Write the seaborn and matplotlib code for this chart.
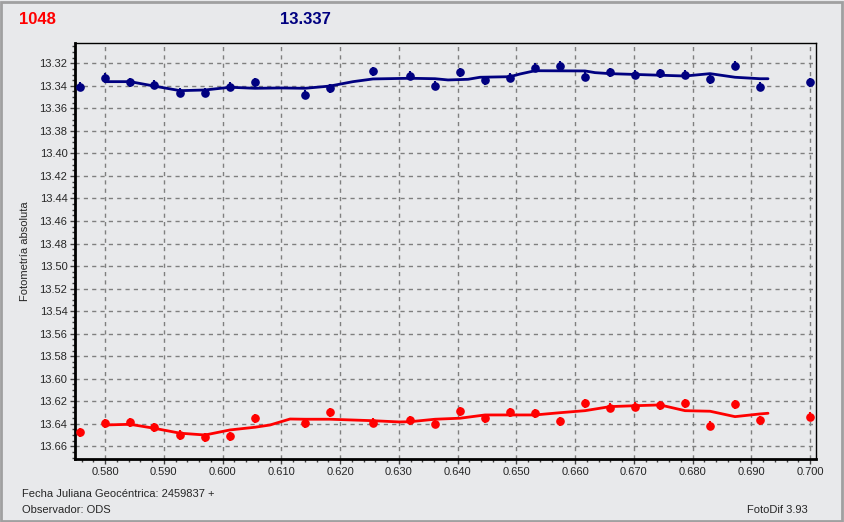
import numpy as np
import pandas as pd
import seaborn as sns
import matplotlib.pyplot as plt
from matplotlib.ticker import MultipleLocator, FormatStrFormatter
from matplotlib.patches import Rectangle

# Fecha juliana (fraccion) de cada medida
jd = [0.57574, 0.58000, 0.58426, 0.58834, 0.59277, 0.59702, 0.60128, 0.60553,
      0.61404, 0.61830, 0.62562, 0.63191, 0.63617, 0.64043, 0.64468, 0.64894,
      0.65319, 0.65745, 0.66170, 0.66596, 0.67021, 0.67447, 0.67872, 0.68298,
      0.68723, 0.69149, 0.70000]

# Estrella de comparacion (azul) y objeto (rojo)
mag_azul = [13.341, 13.333, 13.337, 13.339, 13.346, 13.346, 13.341, 13.337,
            13.348, 13.342, 13.327, 13.331, 13.340, 13.328, 13.335, 13.333,
            13.324, 13.322, 13.332, 13.328, 13.330, 13.329, 13.330, 13.334,
            13.322, 13.341, 13.337]
mag_rojo = [13.6474, 13.6394, 13.6385, 13.643, 13.650, 13.6518, 13.651, 13.635,
            13.6394, 13.6296, 13.639, 13.637, 13.640, 13.6287, 13.635, 13.6296,
            13.6305, 13.6376, 13.6216, 13.626, 13.625, 13.6234, 13.6216, 13.642,
            13.6225, 13.637, 13.6336]

# Curvas suavizadas
jd_azul_c = [0.5800, 0.58426, 0.58834, 0.59277, 0.59702, 0.60128, 0.60553, 0.60996,
             0.61404, 0.61830, 0.62221, 0.62562, 0.63191, 0.63617, 0.63838, 0.64179,
             0.64383, 0.64894, 0.65064, 0.65319, 0.66170, 0.66340, 0.66596, 0.67872,
             0.68298, 0.68723, 0.69149, 0.69285]
y_azul_c = [13.3363, 13.3363, 13.3402, 13.3443, 13.3437, 13.3413, 13.3422, 13.3419,
            13.3422, 13.3402, 13.3363, 13.3339, 13.3333, 13.3337, 13.3348, 13.3342,
            13.3324, 13.3319, 13.3295, 13.3266, 13.3268, 13.3283, 13.3292, 13.3313,
            13.3292, 13.3324, 13.3337, 13.3337]

jd_rojo_c = [0.5800, 0.58426, 0.58834, 0.59277, 0.59702, 0.60128, 0.60553, 0.60809,
             0.61149, 0.61404, 0.61830, 0.62562, 0.63004, 0.63191, 0.63617, 0.64043,
             0.64468, 0.64894, 0.65319, 0.65745, 0.66170, 0.66596, 0.67021, 0.67447,
             0.67872, 0.68298, 0.68723, 0.69149, 0.69285]
y_rojo_c = [13.6411, 13.6405, 13.6440, 13.6484, 13.6500, 13.6455, 13.6431, 13.6411,
            13.6358, 13.6360, 13.6360, 13.6373, 13.6384, 13.6382, 13.6360, 13.6351,
            13.6322, 13.6322, 13.6322, 13.6302, 13.6284, 13.6248, 13.6240, 13.6233,
            13.6284, 13.6289, 13.6337, 13.6313, 13.6307]

fondo = "#e8e9eb"
azul = "#000080"
rojo = "#ff0000"

sns.set_theme(style="ticks")
plt.rcParams["font.family"] = ["Liberation Sans", "DejaVu Sans"]

fig = plt.figure(figsize=(8.44, 5.22), dpi=100, facecolor=fondo)
ax = fig.add_axes([0.0889, 0.1207, 0.8776, 0.7969], facecolor=fondo)

curva_azul = pd.DataFrame({"jd": jd_azul_c, "mag": y_azul_c})
curva_rojo = pd.DataFrame({"jd": jd_rojo_c, "mag": y_rojo_c})
sns.lineplot(data=curva_azul, x="jd", y="mag", color=azul, lw=2, ax=ax,
             estimator=None, sort=False)
sns.lineplot(data=curva_rojo, x="jd", y="mag", color=rojo, lw=2, ax=ax,
             estimator=None, sort=False)

# Puntos con pequenas barras de error
ax.errorbar(jd, mag_azul, yerr=0.004, fmt="o", color=azul, ms=5.2,
            elinewidth=1.5, capsize=0, zorder=4)
ax.errorbar(jd, mag_rojo, yerr=0.004, fmt="o", color=rojo, ms=5.2,
            elinewidth=1.5, capsize=0, zorder=4)

ax.set_xlim(0.57489, 0.70097)
ax.set_ylim(13.6713, 13.302)

ax.xaxis.set_major_locator(MultipleLocator(0.01))
ax.xaxis.set_minor_locator(MultipleLocator(0.002))
ax.xaxis.set_major_formatter(FormatStrFormatter("%.3f"))
ax.yaxis.set_major_locator(MultipleLocator(0.02))
ax.yaxis.set_minor_locator(MultipleLocator(0.005))
ax.yaxis.set_major_formatter(FormatStrFormatter("%.2f"))

ax.grid(True, which="major", color="#7f7f7f", linestyle=(0, (3, 3)), lw=1)
ax.tick_params(which="major", length=3.5, width=1, labelsize=8, color="#404040",
               pad=2)
ax.tick_params(which="minor", length=2, width=1, color="#404040")

for lado in ["top", "right"]:
    ax.spines[lado].set_visible(True)
    ax.spines[lado].set_linewidth(1)
    ax.spines[lado].set_color("black")
for lado in ["left", "bottom"]:
    ax.spines[lado].set_linewidth(2)
    ax.spines[lado].set_color("black")

ax.set_xlabel("")
ax.set_ylabel("Fotometría absoluta", fontsize=8, labelpad=7)

fig.text(19 / 844, 1 - 19 / 522, "1048", color=rojo, fontsize=12,
         fontweight="bold", va="center", ha="left")
fig.text(280 / 844, 1 - 19 / 522, "13.337", color=azul, fontsize=12,
         fontweight="bold", va="center", ha="left")
fig.text(22 / 844, 1 - 494 / 522, "Fecha Juliana Geocéntrica: 2459837 +",
         fontsize=8, va="center", ha="left")
fig.text(22 / 844, 1 - 510 / 522, "Observador: ODS", fontsize=8,
         va="center", ha="left")
fig.text(808 / 844, 1 - 510 / 522, "FotoDif 3.93", fontsize=8,
         va="center", ha="right")

# Marco de la ventana
fig.patches.append(Rectangle((0.001, 0.002), 0.997, 0.995, transform=fig.transFigure,
                             fill=False, edgecolor="#a0a0a0", lw=2))

fig.savefig("out.png", dpi=100, facecolor=fondo)
